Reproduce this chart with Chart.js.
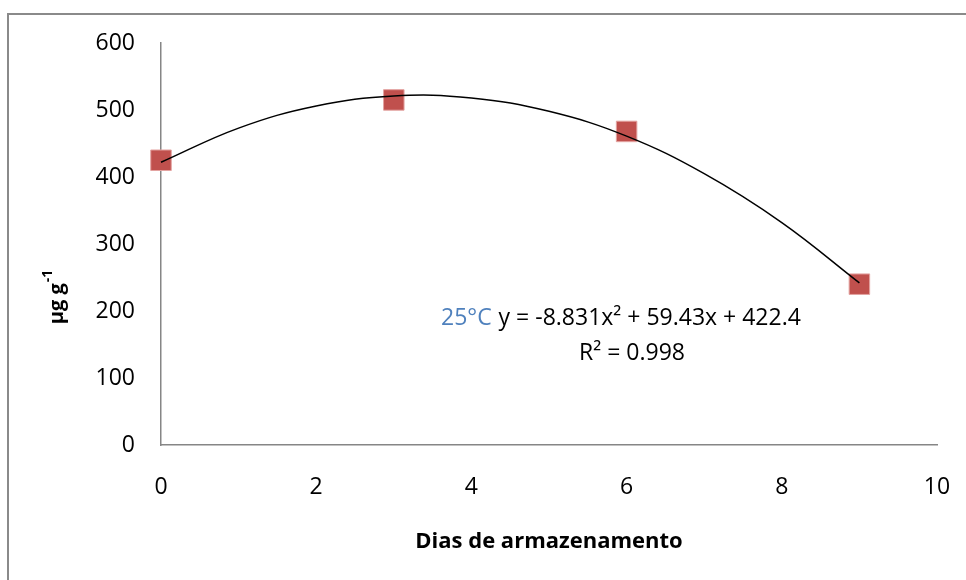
<!DOCTYPE html>
<html>
<head>
<meta charset="utf-8">
<script src="https://cdn.jsdelivr.net/npm/chart.js"></script>
<style>
  body { margin: 0; background: #fff; overflow: hidden; }
  .wrap { position: relative; width: 966px; height: 580px; overflow: hidden; }
  .frame { position: absolute; left: 7px; top: 13px; width: 1000px; height: 700px; border: 2px solid #8a8a8a; }
  canvas { position: absolute; left: 0; top: 0; }
</style>
</head>
<body>
<div class="wrap">
  <div class="frame"></div>
  <canvas id="chart" width="966" height="580"></canvas>
</div>
<script>
  // measured points
  const days = [0, 3, 6, 9];
  const values = [425, 515, 468, 240];
  // trendline
  const curveDays = [0, 1, 2, 3, 4, 5, 6, 7, 8, 9];
  const curveValues = [422, 473, 506, 521, 518, 498, 461, 405, 332, 242];
  const seriesLabel = "25°C";
  const equation = "y = -8.831x² + 59.43x + 422.4";
  const rSquared = "R² = 0.998";

  const font = "'Open Sans', sans-serif";

  const textPlugin = {
    id: "texts",
    afterDraw(chart) {
      const ctx = chart.ctx;
      ctx.save();
      // equation label
      ctx.font = "23px " + font;
      ctx.textBaseline = "middle";
      ctx.textAlign = "left";
      let x = 441;
      ctx.fillStyle = "#4f81bd";
      ctx.fillText(seriesLabel, x, 318);
      x += ctx.measureText(seriesLabel + " ").width + 1;
      ctx.fillStyle = "#000";
      ctx.fillText(equation, x, 318);
      ctx.textAlign = "center";
      ctx.fillText(rSquared, 632, 353);

      // y axis title with superscript
      ctx.translate(57, 297);
      ctx.rotate(-Math.PI / 2);
      ctx.textAlign = "left";
      ctx.textBaseline = "middle";
      const main = "µg g";
      const sup = "-1";
      ctx.font = "bold 20px " + font;
      const w1 = ctx.measureText(main).width;
      ctx.font = "bold 14px " + font;
      const w2 = ctx.measureText(sup).width;
      const start = -(w1 + w2 + 1) / 2;
      ctx.font = "bold 20px " + font;
      ctx.fillText(main, start, 0);
      ctx.font = "bold 14px " + font;
      ctx.fillText(sup, start + w1 + 1, -9);
      ctx.restore();
    }
  };

  new Chart(document.getElementById("chart"), {
    type: "scatter",
    data: {
      datasets: [
        {
          label: "trend",
          data: curveDays.map((d, i) => ({ x: d, y: curveValues[i] })),
          showLine: true,
          borderColor: "#000",
          borderWidth: 1.5,
          pointRadius: 0,
          tension: 0.4,
          clip: false,
        },
        {
          label: seriesLabel,
          data: days.map((d, i) => ({ x: d, y: values[i] })),
          pointStyle: "rect",
          pointRadius: 14.5,
          backgroundColor: "#c0504d",
          borderColor: "#e3a3a1",
          borderWidth: 1,
          clip: false,
        },
      ],
    },
    options: {
      responsive: false,
      animation: false,
      layout: { padding: { top: 43, right: 29, left: 0, bottom: 0 } },
      plugins: { legend: { display: false }, tooltip: { enabled: false } },
      scales: {
        x: {
          type: "linear",
          min: 0,
          max: 10,
          ticks: { stepSize: 2, padding: 29, color: "#000", font: { family: font, size: 23 } },
          grid: { display: false, drawTicks: false },
          border: { color: "#868686", width: 1.5 },
          title: {
            display: true,
            text: "Dias de armazenamento",
            color: "#000",
            font: { family: font, size: 22, weight: "bold" },
            padding: { top: 0, bottom: 25 },
          },
          afterFit(s) {
            s.height = 135;
            s.paddingLeft = 0;
            s.paddingRight = 0;
          },
        },
        y: {
          min: 0,
          max: 600,
          ticks: { stepSize: 100, padding: 26, color: "#000", font: { family: font, size: 23 } },
          grid: { display: false, drawTicks: false },
          border: { color: "#868686", width: 1.5 },
          afterFit(s) {
            s.width = 161;
            s.paddingTop = 0;
            s.paddingBottom = 0;
          },
        },
      },
    },
    plugins: [textPlugin],
  });
</script>
</body>
</html>
